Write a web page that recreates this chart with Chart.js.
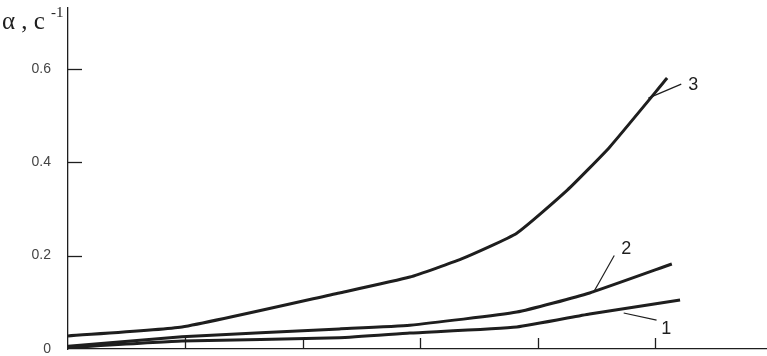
<!DOCTYPE html>
<html><head><meta charset="utf-8">
<script src="https://cdn.jsdelivr.net/npm/chart.js@4/dist/chart.umd.min.js"></script>
<style>html,body{margin:0;padding:0;background:#fff}#wrap{width:767px;height:356px}</style>
</head><body><div id="wrap"><canvas id="c" width="767" height="356"></canvas></div>
<script>
// x positions (unlabelled axis units) and alpha values, c^-1
const x3 = [0, 0.97, 2.31, 2.91, 3.35, 3.82, 4.25, 4.61, 5.10];
const y3 = [0.028, 0.047, 0.120, 0.154, 0.193, 0.248, 0.340, 0.432, 0.580];
const x2 = [0, 0.97, 2.31, 2.91, 3.82, 4.44, 5.14];
const y2 = [0.006, 0.026, 0.043, 0.051, 0.079, 0.120, 0.182];
const x1 = [0, 0.97, 2.31, 2.91, 3.82, 4.44, 5.21];
const y1 = [0.003, 0.017, 0.024, 0.034, 0.047, 0.075, 0.105];
const yTicks = [0, 0.2, 0.4, 0.6];
const xTicks = [1, 2, 3, 4, 5];
const curveNames = ['1', '2', '3'];
// leader lines: point on curve -> label anchor (data coords)
const leaderFrom = [[4.73, 0.077], [4.47, 0.120], [4.94, 0.537]];
const leaderTo   = [[5.01, 0.062], [4.65, 0.200], [5.22, 0.567]];
const labelAt    = [[5.05, 0.042], [4.71, 0.215], [5.28, 0.566]];

const toPts = (xs, ys) => xs.map((x, i) => ({x, y: ys[i]}));
const C = '#1e1e1e';
const ds = (xs, ys) => ({data: toPts(xs, ys), borderColor: C, borderWidth: 3, pointRadius: 0, tension: 0.15, fill: false});

const deco = {
  id: 'deco',
  afterDraw(chart) {
    const ctx = chart.ctx, xs = chart.scales.x, ys = chart.scales.y;
    ctx.save();
    ctx.strokeStyle = C; ctx.lineWidth = 1.3;
    const ay = ys.getPixelForValue(0), ax = xs.getPixelForValue(0);
    xTicks.forEach(v => { const px = Math.round(xs.getPixelForValue(v)) + 0.5; ctx.beginPath(); ctx.moveTo(px, ay); ctx.lineTo(px, ay - 11); ctx.stroke(); });
    yTicks.slice(1).forEach(v => { const py = Math.round(ys.getPixelForValue(v)) + 0.5; ctx.beginPath(); ctx.moveTo(ax, py); ctx.lineTo(ax + 14, py); ctx.stroke(); });
    // leaders and labels
    ctx.lineWidth = 1.2;
    ctx.fillStyle = C; ctx.font = '18px "Liberation Sans", Arial, sans-serif';
    ctx.textAlign = 'left'; ctx.textBaseline = 'middle';
    curveNames.forEach((n, i) => {
      ctx.beginPath();
      ctx.moveTo(xs.getPixelForValue(leaderFrom[i][0]), ys.getPixelForValue(leaderFrom[i][1]));
      ctx.lineTo(xs.getPixelForValue(leaderTo[i][0]), ys.getPixelForValue(leaderTo[i][1]));
      ctx.stroke();
      ctx.fillText(n, xs.getPixelForValue(labelAt[i][0]), ys.getPixelForValue(labelAt[i][1]));
    });
    // axis title
    ctx.font = '25px "Liberation Serif", "Times New Roman", serif';
    ctx.textBaseline = 'alphabetic';
    ctx.fillText('α , c', 2, 29);
    ctx.font = '15px "Liberation Serif", "Times New Roman", serif';
    ctx.fillText('-1', 51, 17);
    ctx.restore();
  }
};

new Chart(document.getElementById('c'), {
  type: 'line',
  data: { datasets: [ds(x1, y1), ds(x2, y2), ds(x3, y3)] },
  options: {
    responsive: false, animation: false,
    layout: { padding: { top: 8, right: 0, bottom: 7, left: 0 } },
    plugins: { legend: { display: false }, tooltip: { enabled: false } },
    scales: {
      x: { type: 'linear', min: 0, max: 5.95, grid: { display: false }, ticks: { display: false },
           afterFit: s => { s.height = 0; s.paddingLeft = 0; s.paddingRight = 0; },
           border: { display: true, color: C, width: 1.3 } },
      y: { type: 'linear', min: 0, max: 0.73,
           afterBuildTicks: s => { s.ticks = yTicks.map(v => ({value: v})); },
           afterFit: s => { s.width = 68; s.paddingTop = 0; s.paddingBottom = 0; },
           grid: { display: false },
           border: { display: true, color: C, width: 1.3 },
           ticks: { padding: 9, color: '#444', font: { family: '"Liberation Sans", Arial, sans-serif', size: 14 },
                    callback: v => String(v) } }
    }
  },
  plugins: [deco]
});
</script></body></html>
